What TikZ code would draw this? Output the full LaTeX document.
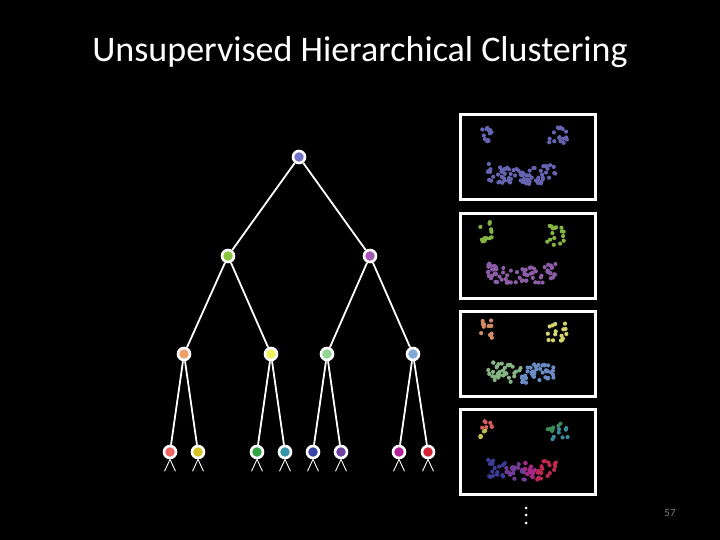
\documentclass[tikz,border=0pt]{standalone}
\usepackage{fontspec}
\setmainfont{Carlito}
\definecolor{nroot}{HTML}{7373C4}
\definecolor{ngreen}{HTML}{8CC43A}
\definecolor{npurple}{HTML}{A457B4}
\definecolor{norange}{HTML}{F0A06A}
\definecolor{nyellow}{HTML}{F0F05A}
\definecolor{nlgreen}{HTML}{94D494}
\definecolor{nlblue}{HTML}{82A8D8}
\definecolor{lred}{HTML}{F06464}
\definecolor{lyellow}{HTML}{D4C424}
\definecolor{lgreen}{HTML}{34A444}
\definecolor{lteal}{HTML}{3494A8}
\definecolor{lblue}{HTML}{3844A4}
\definecolor{lviolet}{HTML}{7040A4}
\definecolor{lmagenta}{HTML}{B4209C}
\definecolor{lcrimson}{HTML}{D42434}
% scatter colours
\definecolor{sblue}{HTML}{6464B0}
\definecolor{sgreen}{HTML}{84B444}
\definecolor{spurple}{HTML}{8C5CA4}
\definecolor{sorange}{HTML}{D48C64}
\definecolor{syellow}{HTML}{D4D46C}
\definecolor{slgreen}{HTML}{84B484}
\definecolor{slblue}{HTML}{6B8BC4}
\definecolor{sred}{HTML}{D45C5C}
\definecolor{sdyellow}{HTML}{C4BC4C}
\definecolor{sdgreen}{HTML}{3C8A5A}
\definecolor{steal}{HTML}{3C8A98}
\definecolor{sdblue}{HTML}{3C3C96}
\definecolor{sviolet}{HTML}{703C96}
\definecolor{smagenta}{HTML}{A42884}
\definecolor{scrimson}{HTML}{C02850}

% a round blob of points: cx cy rx ry n colour
\newcommand{\blob}[6]{%
  \foreach \k in {1,...,#5}{
    \pgfmathsetmacro{\px}{#1+#3*rand}
    \pgfmathsetmacro{\py}{#2+#4*rand}
    \fill[#6] (\px,\py) circle[radius=2.1pt];
  }}
% part of the curved lower band: x0 x1 n colour
\newcommand{\band}[4]{%
  \foreach \k in {1,...,#3}{
    \pgfmathsetmacro{\px}{#1+(#2-#1)*rnd}
    \pgfmathsetmacro{\py}{64-0.004*(\px-63)*(\px-63)+9*rand}
    \fill[#4] (\px,\py) circle[radius=2.1pt];
  }}

\begin{document}
\begin{tikzpicture}[x=1pt,y=-1pt,
  vertex/.style={circle,draw=white,line width=2.6pt,minimum size=12pt,inner sep=0pt},
  edge/.style={white,line width=1.8pt},
  leg/.style={white,line width=0.9pt},
  frame/.style={white,line width=3pt}]
\fill[black] (0,0) rectangle (720,540);
\pgfmathsetseed{11}

\node[white,font=\fontsize{36}{42}\selectfont] (title) at (360,52) {Unsupervised Hierarchical Clustering};

% tree
\node[vertex,fill=nroot] (r) at (299,157) {};
\node[vertex,fill=ngreen] (a) at (228,256) {};
\node[vertex,fill=npurple] (b) at (370,256) {};
\node[vertex,fill=norange] (aa) at (184,354) {};
\node[vertex,fill=nyellow] (ab) at (271,354) {};
\node[vertex,fill=nlgreen] (ba) at (327,354) {};
\node[vertex,fill=nlblue] (bb) at (413,354) {};
\node[vertex,fill=lred] (l1) at (170,452) {};
\node[vertex,fill=lyellow] (l2) at (198,452) {};
\node[vertex,fill=lgreen] (l3) at (257,452) {};
\node[vertex,fill=lteal] (l4) at (285,452) {};
\node[vertex,fill=lblue] (l5) at (313,452) {};
\node[vertex,fill=lviolet] (l6) at (341,452) {};
\node[vertex,fill=lmagenta] (l7) at (399,452) {};
\node[vertex,fill=lcrimson] (l8) at (428,452) {};
\draw[edge] (r) -- (a) (r) -- (b)
  (a) -- (aa) (a) -- (ab) (b) -- (ba) (b) -- (bb)
  (aa) -- (l1) (aa) -- (l2) (ab) -- (l3) (ab) -- (l4)
  (ba) -- (l5) (ba) -- (l6) (bb) -- (l7) (bb) -- (l8);
\foreach \l in {l1,l2,l3,l4,l5,l6,l7,l8}{
  \draw[leg] (\l.south) -- ++(-5.5,12) (\l.south) -- ++(5.5,12);
}

% clusterings
\begin{scope}[shift={(459,113)}]
\draw[frame] (1.5,1.5) rectangle (136.5,86.5);
\blob{27}{20}{6}{10}{12}{sblue}
\blob{98}{23}{10}{10}{16}{sblue}
\band{29}{97}{70}{sblue}
\fill[sblue] (63,61) circle[radius=3.5pt];
\end{scope}
\begin{scope}[shift={(459,212)}]
\draw[frame] (1.5,1.5) rectangle (136.5,86.5);
\blob{27}{20}{6}{10}{12}{sgreen}
\blob{98}{23}{10}{10}{16}{sgreen}
\band{29}{97}{70}{spurple}
\end{scope}
\begin{scope}[shift={(459,310)}]
\draw[frame] (1.5,1.5) rectangle (136.5,86.5);
\blob{27}{20}{6}{10}{12}{sorange}
\blob{98}{23}{10}{10}{16}{syellow}
\band{29}{62}{35}{slgreen}
\band{62}{97}{35}{slblue}
\fill[slblue] (74,63) circle[radius=3.5pt];
\end{scope}
\begin{scope}[shift={(459,408)}]
\draw[frame] (1.5,1.5) rectangle (136.5,86.5);
\blob{28}{15}{6}{5}{7}{sred}
\blob{26}{26}{6}{5}{6}{sdyellow}
\blob{95}{18}{7}{6}{8}{sdgreen}
\blob{101}{27}{8}{7}{8}{steal}
\band{29}{46}{18}{sdblue}
\band{46}{66}{20}{sviolet}
\band{66}{82}{17}{smagenta}
\band{78}{97}{17}{scrimson}
\end{scope}

% more levels
\foreach \y in {508,515,523}{
  \fill[white] (526,\y) circle[radius=1.5pt];
}
\node[gray,font=\fontsize{11}{13}\selectfont] (page) at (670,513) {57};
\end{tikzpicture}
\end{document}
